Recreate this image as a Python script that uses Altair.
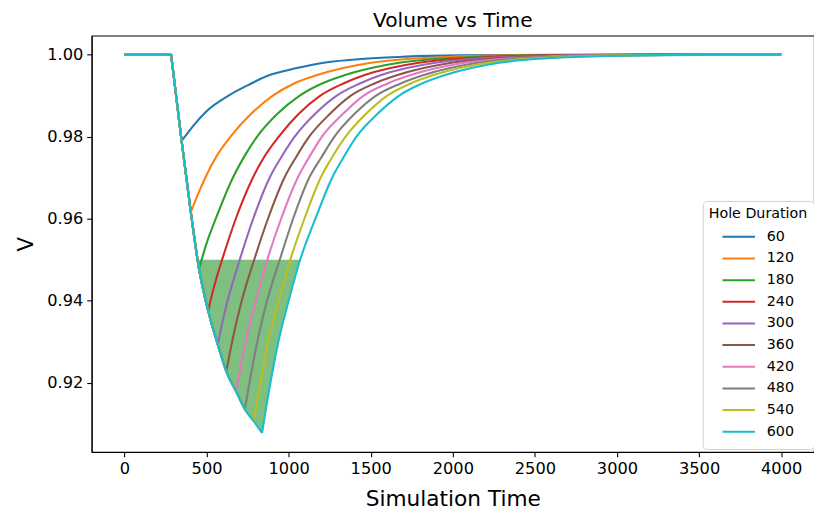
import altair as alt
import pandas as pd

# ---------------- data ----------------
durations = [60, 120, 180, 240, 300, 360, 420, 480, 540, 600]
colors = ["#1f77b4", "#ff7f0e", "#2ca02c", "#d62728", "#9467bd",
          "#8c564b", "#e377c2", "#7f7f7f", "#bcbd22", "#17becf"]

# flat part before the hole opens
pre_t = [0, 284]
pre_v = [1.0, 1.0]

# shared draining curve (each run leaves it at its own end point)
descent_t = [348, 404, 454, 510, 568, 620, 680, 733, 787, 838]
descent_v = [0.979, 0.9616, 0.9478, 0.9375, 0.9294, 0.9228, 0.9179, 0.9136, 0.9107, 0.9078]

# recovery after the hole is closed, one list per hole duration
rec_t = {
    60:  [368, 420, 500, 634, 750, 884, 1050, 1214, 1464, 1714, 2044, 2600, 4000],
    120: [450, 492, 560, 646, 770, 904, 1030, 1173, 1503, 1753, 2003, 2333, 2900, 4000],
    180: [500, 556, 660, 730, 808, 930, 1067, 1200, 1343, 1673, 1923, 2173, 2503, 3050, 4000],
    240: [524, 560, 600, 678, 782, 850, 940, 1060, 1193, 1330, 1463, 1793, 2043, 2293, 2623, 3150, 4000],
    300: [590, 628, 702, 784, 884, 955, 1037, 1160, 1293, 1430, 1563, 1893, 2143, 2393, 2723, 3250, 4000],
    360: [660, 714, 790, 874, 974, 1045, 1125, 1250, 1379, 1520, 1663, 1993, 2243, 2493, 2823, 3350, 4000],
    420: [720, 760, 800, 870, 954, 1055, 1125, 1203, 1330, 1457, 1600, 1743, 2073, 2323, 2573, 2903, 3450, 4000],
    480: [770, 815, 868, 946, 1027, 1125, 1200, 1279, 1400, 1533, 1680, 1823, 2153, 2403, 2653, 2983, 3500, 4000],
    540: [825, 880, 943, 1010, 1096, 1195, 1265, 1347, 1470, 1601, 1740, 1883, 2213, 2463, 2713, 3043, 3550, 4000],
    600: [880, 940, 1000, 1070, 1163, 1265, 1335, 1413, 1540, 1673, 1810, 1953, 2283, 2533, 2783, 3113, 3600, 4000],
}
rec_v = {
    60:  [0.98, 0.9827, 0.9862, 0.99, 0.9925, 0.995, 0.9967, 0.998, 0.999, 0.9995, 0.9998, 0.99995, 1.0],
    120: [0.9662, 0.97, 0.9752, 0.98, 0.9855, 0.99, 0.9929, 0.995, 0.998, 0.999, 0.9995, 0.9998, 0.99995, 1.0],
    180: [0.954, 0.96, 0.97, 0.9752, 0.98, 0.9855, 0.99, 0.9929, 0.995, 0.998, 0.999, 0.9995, 0.9998, 0.99995, 1.0],
    240: [0.94, 0.9455, 0.9507, 0.96, 0.97, 0.975, 0.98, 0.9855, 0.99, 0.9929, 0.995, 0.998, 0.999, 0.9995, 0.9998, 0.99995, 1.0],
    300: [0.9336, 0.94, 0.95, 0.96, 0.97, 0.975, 0.98, 0.9855, 0.99, 0.9929, 0.995, 0.998, 0.999, 0.9995, 0.9998, 0.99995, 1.0],
    360: [0.9309, 0.94, 0.95, 0.96, 0.97, 0.975, 0.98, 0.9855, 0.99, 0.9929, 0.995, 0.998, 0.999, 0.9995, 0.9998, 0.99995, 1.0],
    420: [0.9265, 0.934, 0.94, 0.95, 0.96, 0.97, 0.975, 0.98, 0.9855, 0.99, 0.9929, 0.995, 0.998, 0.999, 0.9995, 0.9998, 0.99995, 1.0],
    480: [0.922, 0.9312, 0.94, 0.95, 0.96, 0.97, 0.975, 0.98, 0.9855, 0.99, 0.9929, 0.995, 0.998, 0.999, 0.9995, 0.9998, 0.99995, 1.0],
    540: [0.9196, 0.931, 0.9405, 0.95, 0.96, 0.97, 0.975, 0.98, 0.9855, 0.99, 0.9929, 0.995, 0.998, 0.999, 0.9995, 0.9998, 0.99995, 1.0],
    600: [0.918, 0.9305, 0.94, 0.95, 0.96, 0.97, 0.975, 0.98, 0.9855, 0.99, 0.9929, 0.995, 0.998, 0.999, 0.9995, 0.9998, 0.99995, 1.0],
}

# shaded region below V = 0.95 for the longest hole (falling side, rising side)
fill_down_t = [446, 454, 510, 568, 620, 680, 733, 787, 838]
fill_down_v = [0.95, 0.9478, 0.9375, 0.9294, 0.9228, 0.9179, 0.9136, 0.9107, 0.9078]
fill_up_t = [838, 880, 940, 1000, 1070]
fill_up_v = [0.9078, 0.918, 0.9305, 0.94, 0.95]
fill_level = 0.95

x_ticks = [0, 500, 1000, 1500, 2000, 2500, 3000, 3500, 4000]
y_ticks = [0.92, 0.94, 0.96, 0.98, 1.00]

# ---------------- build tables ----------------
rows = []
for i, d in enumerate(durations):
    parts = [
        ("flat", pre_t, pre_v),
        ("down", [pre_t[-1]] + descent_t[: i + 1], [pre_v[-1]] + descent_v[: i + 1]),
        ("up", [descent_t[i]] + rec_t[d], [descent_v[i]] + rec_v[d]),
    ]
    for name, ts, vs in parts:
        for t, v in zip(ts, vs):
            rows.append({"t": t, "V": v, "Hole Duration": str(d),
                         "seg": f"{d}-{name}"})
lines_df = pd.DataFrame(rows)

fill_rows = []
for name, ts, vs in [("down", fill_down_t, fill_down_v), ("up", fill_up_t, fill_up_v)]:
    for t, v in zip(ts, vs):
        fill_rows.append({"t": t, "V": v, "level": fill_level, "part": name})
fill_df = pd.DataFrame(fill_rows)

FONT = "DejaVu Sans"
x_scale = alt.Scale(domain=[-200, 4200], nice=False, zero=False)
y_scale = alt.Scale(domain=[0.90319, 1.00461], nice=False, zero=False)

area = alt.Chart(fill_df).mark_area(color="#008000", opacity=0.5,
                                    interpolate="monotone").encode(
    x=alt.X("t:Q", scale=x_scale),
    y=alt.Y("V:Q", scale=y_scale),
    y2="level:Q",
    detail="part:N",
)

lines = alt.Chart(lines_df).mark_line(strokeWidth=2.1, interpolate="monotone").encode(
    x=alt.X("t:Q", scale=x_scale,
            axis=alt.Axis(title="Simulation Time", values=x_ticks, format="d")),
    y=alt.Y("V:Q", scale=y_scale,
            axis=alt.Axis(title="V", values=y_ticks, format=".2f")),
    color=alt.Color("Hole Duration:N",
                    scale=alt.Scale(domain=[str(d) for d in durations], range=colors),
                    sort=[str(d) for d in durations],
                    legend=alt.Legend(title="Hole Duration", orient="none",
                                      legendX=621, legendY=168,
                                      symbolType="stroke", symbolStrokeWidth=2,
                                      symbolSize=1089, symbolOffset=13,
                                      labelOffset=11, rowPadding=0,
                                      clipHeight=21.9,
                                      titleFontSize=14.5, labelFontSize=14.5,
                                      titleFontWeight="normal", titleFont=FONT,
                                      labelFont=FONT, labelColor="black",
                                      titleColor="black", titlePadding=5,
                                      fillColor="white", strokeColor="#d0d0d0",
                                      cornerRadius=4, padding=6)),
    detail="seg:N",
)

chart = (area + lines).properties(
    width=734, height=423,
    title=alt.TitleParams("Volume vs Time", fontSize=20.5, font=FONT,
                          fontWeight="normal", color="black", offset=4),
    autosize=alt.AutoSizeParams(type="none"),
    padding={"left": 85, "top": 24, "right": 0, "bottom": 60},
).configure_view(stroke="black", strokeWidth=1.1).configure_axis(
    grid=False, domainColor="black", tickColor="black", tickSize=5,
    tickWidth=1.1, domainWidth=1.1,
    labelFont=FONT, labelFontSize=16.5, labelColor="black",
    titleFont=FONT, titleFontSize=22, titleFontWeight="normal", titleColor="black",
).configure_axisX(titlePadding=12, labelPadding=4).configure_axisY(titlePadding=9, labelPadding=4)

chart.save("out.html", embed_options={"renderer": "svg", "actions": False})
